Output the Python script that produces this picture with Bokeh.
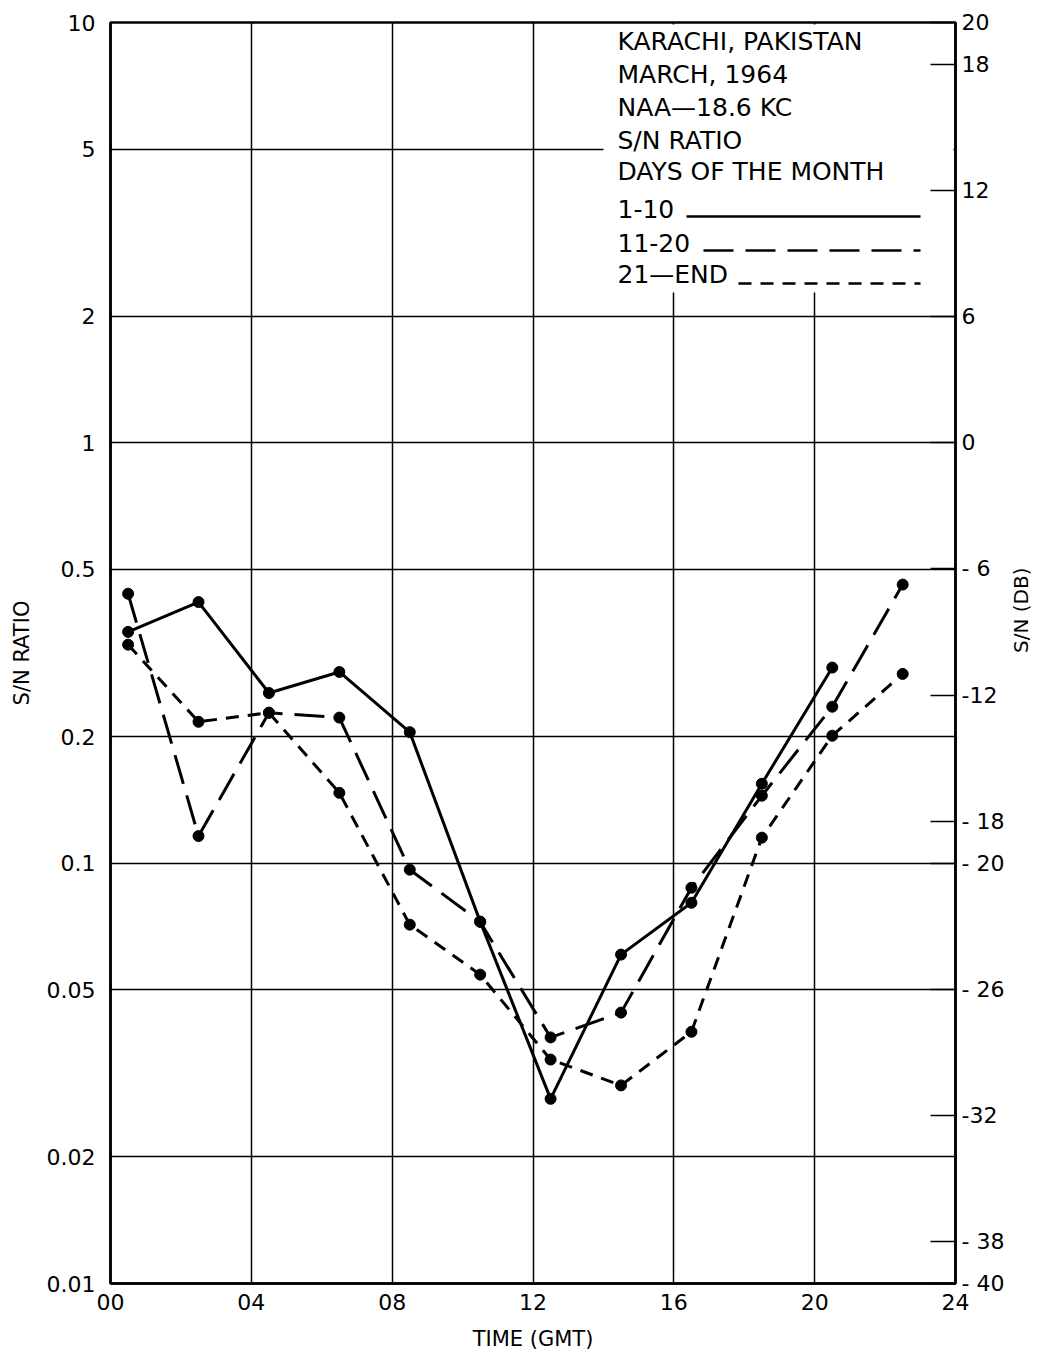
import math
from bokeh.plotting import figure
from bokeh.models import FixedTicker, LinearAxis, Range1d, LinearScale
from bokeh.core.properties import value
from bokeh.embed import file_html
from bokeh.resources import INLINE

# ---------------- data ----------------
hours = [0.5, 2.5, 4.5, 6.5, 8.5, 10.5, 12.5, 14.5, 16.5, 18.5, 20.5, 22.5]

# days 1-10 (solid) -- no point at 22.5
days_1_10 = [0.355, 0.418, 0.254, 0.285, 0.205, 0.0726, 0.0275, 0.0606, 0.0805, 0.1545, 0.292]
# days 11-20 (long dash)
days_11_20 = [0.4375, 0.116, 0.228, 0.222, 0.0965, 0.0725, 0.0385, 0.0441, 0.0874, 0.1447, 0.2356, 0.46]
# days 21-end (short dash)
days_21_end = [0.331, 0.217, 0.228, 0.147, 0.0714, 0.0543, 0.0341, 0.0296, 0.0397, 0.115, 0.201, 0.282]

x_ticks = [0, 4, 8, 12, 16, 20, 24]
x_tick_labels = ["00", "04", "08", "12", "16", "20", "24"]
y_ticks = [10, 5, 2, 1, 0.5, 0.2, 0.1, 0.05, 0.02, 0.01]
y_tick_labels = ["10", "5", "2", "1", "0.5", "0.2", "0.1", "0.05", "0.02", "0.01"]
db_ticks = [20, 18, 12, 6, 0, -6, -12, -18, -20, -26, -32, -38, -40]
db_tick_labels = ["20", "18", "12", "6", "0", "- 6", "-12", "- 18", "- 20", "- 26", "-32", "- 38", "- 40"]

legend_title = ["KARACHI, PAKISTAN", "MARCH, 1964", "NAA\u201418.6 KC", "S/N RATIO", "DAYS OF THE MONTH"]
legend_series = ["1-10", "11-20", "21\u2014END"]

FONT = "DejaVu Sans"

# ---------------- layout helpers (screen px of the frame -> data) ----------------
FRAME_LEFT, FRAME_TOP, FRAME_W, FRAME_H = 110, 22, 845, 1261
PX_PER_HOUR = FRAME_W / 24.0
PX_PER_DECADE = FRAME_H / 3.0
Y_ONE = FRAME_TOP + PX_PER_DECADE  # pixel of ratio 1


def dx(px):
    return (px - FRAME_LEFT) / PX_PER_HOUR


def dy(px):
    return 10 ** ((Y_ONE - px) / PX_PER_DECADE)


# ---------------- figure ----------------
p = figure(
    frame_width=FRAME_W, frame_height=FRAME_H,
    x_range=Range1d(0, 24), y_range=Range1d(0.01, 10),
    y_axis_type="log",
    output_backend="svg", toolbar_location=None,
    min_border_left=FRAME_LEFT, min_border_top=FRAME_TOP,
    min_border_right=85, min_border_bottom=70,
)
p.extra_y_ranges = {"db": Range1d(-40, 20)}
p.extra_y_scales = {"db": LinearScale()}

p.background_fill_color = "white"
p.border_fill_color = "white"
p.outline_line_color = "black"
p.outline_line_width = 2.5

# x axis
xa = p.xaxis[0]
xa.ticker = FixedTicker(ticks=x_ticks, minor_ticks=[])
xa.major_label_overrides = {t: l for t, l in zip(x_ticks, x_tick_labels)}
xa.axis_label = "TIME (GMT)"

# left axis
ya = p.yaxis[0]
ya.ticker = FixedTicker(ticks=y_ticks, minor_ticks=[])
ya.major_label_overrides = {t: l for t, l in zip(y_ticks, y_tick_labels)}
ya.axis_label = "S/N RATIO"

# right axis (dB)
ra = LinearAxis(y_range_name="db", ticker=FixedTicker(ticks=db_ticks, minor_ticks=[]))
ra.major_label_overrides = {t: l for t, l in zip(db_ticks, db_tick_labels)}
ra.axis_label = "S/N (DB)"
try:
    ra.axis_label_orientation = math.pi / 2
except Exception:
    pass
p.add_layout(ra, "right")

for ax in [xa, ya, ra]:
    ax.axis_line_color = "black"
    ax.axis_line_width = 2.5
    ax.minor_tick_line_color = None
    ax.major_label_text_font = FONT
    ax.major_label_text_font_size = "22px"
    ax.major_label_text_color = "black"
    ax.axis_label_text_font = FONT
    ax.axis_label_text_font_size = "21px"
    ax.axis_label_text_font_style = "normal"
    ax.axis_label_text_color = "black"

ra.axis_label_text_font_size = "20px"
xa.major_tick_line_color = None
ya.major_tick_line_color = None
xa.major_label_standoff = 4
ya.major_label_standoff = 9
xa.axis_label_standoff = 14
ya.axis_label_standoff = 10
ra.major_tick_in = 25
ra.major_tick_out = 0
ra.major_tick_line_width = 1.5
ra.major_tick_line_color = "black"
ra.major_label_standoff = 6
ra.axis_label_standoff = 14

# grid
p.xgrid.ticker = FixedTicker(ticks=[4, 8, 12, 16, 20])
p.ygrid.ticker = FixedTicker(ticks=[5, 2, 1, 0.5, 0.2, 0.1, 0.05, 0.02])
for g in [p.xgrid[0], p.ygrid[0]]:
    g.grid_line_color = "black"
    g.grid_line_width = 1.5
    g.grid_line_alpha = 1.0

# ---------------- legend box (white panel over the grid) ----------------
p.quad(left=[dx(603)], right=[dx(953)], bottom=[dy(292)], top=[dy(24)],
       fill_color="white", line_color=None)

# ---------------- series ----------------
LW = 3
MS = 11
p.line(hours[:len(days_1_10)], days_1_10, line_color="black", line_width=LW)
p.scatter(hours[:len(days_1_10)], days_1_10, size=MS, color="black")

p.line(hours, days_11_20, line_color="black", line_width=LW, line_dash="30 12")
p.scatter(hours, days_11_20, size=MS, color="black")

p.line(hours, days_21_end, line_color="black", line_width=LW, line_dash="13 9")
p.scatter(hours, days_21_end, size=MS, color="black")

# ---------------- legend text ----------------
TEXT_X = dx(617)
title_px = [41, 74, 107, 140, 171]
p.text(x=[TEXT_X] * len(legend_title), y=[dy(v) for v in title_px], text=legend_title,
       text_font=value(FONT), text_font_size="25px", text_baseline="middle",
       text_align="left", text_color="black")

series_px = [208, 242, 274]
p.text(x=[TEXT_X] * len(legend_series), y=[dy(v) for v in series_px], text=legend_series,
       text_font=value(FONT), text_font_size="25px", text_baseline="middle",
       text_align="left", text_color="black")

sample_px = [216, 250, 283]
sample_x0 = [686, 703, 738]
dashes = ["solid", "30 12", "13 9"]
for x0, yy, d in zip(sample_x0, sample_px, dashes):
    p.line([dx(x0), dx(920)], [dy(yy), dy(yy)], line_color="black", line_width=2.5, line_dash=d)

open("out.html", "w").write(file_html(p, INLINE))
